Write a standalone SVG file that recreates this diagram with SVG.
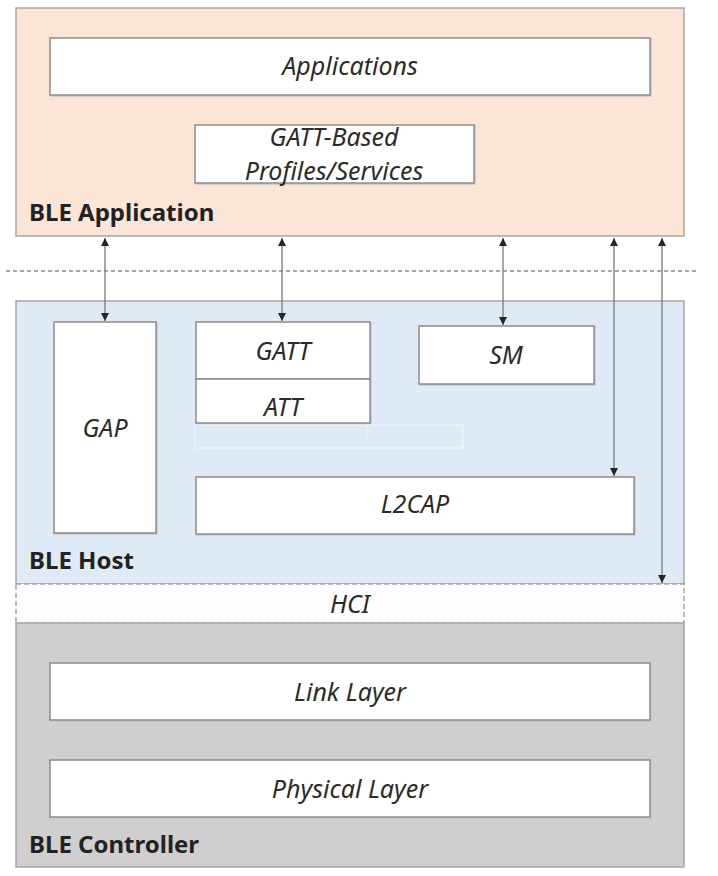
<svg xmlns="http://www.w3.org/2000/svg" width="718" height="876" viewBox="0 0 718 876">
<style>
.layer{stroke:#a6a6a6;stroke-width:1.5}
.box{fill:#ffffff;stroke:#8c8c8c;stroke-width:1.5}
.shadow{fill:none;stroke:#c8c8c8;stroke-width:1.5}
.t{font-family:"Noto Sans","Open Sans",sans-serif;font-style:italic;font-size:25px;fill:#2b2b2b;text-anchor:middle}
.lbl{font-family:"Noto Sans","Open Sans",sans-serif;font-weight:bold;font-size:24px;fill:#222222}
.conn{stroke:#8a8a8a;stroke-width:1.5;fill:none;marker-start:url(#ah);marker-end:url(#ah)}
</style>
<defs>
<marker id="ah" viewBox="0 0 10 10" refX="10" refY="5" markerWidth="8" markerHeight="8" markerUnits="userSpaceOnUse" orient="auto-start-reverse">
<path d="M0,0 L10,5 L0,10 z" fill="#262626"/>
</marker>
</defs>
<rect width="718" height="876" fill="#ffffff"/>

<g id="ble-application">
<rect class="layer" x="16" y="8" width="668" height="228" fill="#fbe5d6"/>
<text class="lbl" x="29" y="221">BLE Application</text>
</g>
<g id="applications">
<rect class="shadow" x="51" y="39" width="600" height="57"/>
<rect class="box" x="50" y="38" width="600" height="57"/>
<text class="t" x="350" y="75">Applications</text>
</g>
<g id="gatt-profiles">
<rect class="shadow" x="196" y="126" width="279" height="58"/>
<rect class="box" x="195" y="125" width="279" height="58"/>
<text class="t" x="334" y="146">GATT-Based</text>
<text class="t" x="334" y="180">Profiles/Services</text>
</g>

<line x1="6" y1="271" x2="697" y2="271" stroke="#8a8a8a" stroke-width="1.5" stroke-dasharray="4,3"/>

<g id="ble-host">
<rect class="layer" x="16" y="301" width="668" height="283" fill="#deebf7"/>
<text class="lbl" x="29" y="569">BLE Host</text>
</g>
<g id="gap">
<rect class="shadow" x="55" y="323" width="102" height="211"/>
<rect class="box" x="54" y="322" width="102" height="211"/>
<text class="t" x="105" y="437">GAP</text>
</g>
<g id="gatt">
<rect class="shadow" x="197" y="323" width="174" height="57"/>
<rect class="box" x="196" y="322" width="174" height="57"/>
<text class="t" x="283" y="360">GATT</text>
</g>
<g id="att">
<rect class="shadow" x="197" y="380" width="174" height="44"/>
<rect class="box" x="196" y="379" width="174" height="44"/>
<text class="t" x="283" y="416">ATT</text>
</g>
<g id="sm">
<rect class="shadow" x="420" y="327" width="175" height="58"/>
<rect class="box" x="419" y="326" width="175" height="58"/>
<text class="t" x="506" y="364">SM</text>
</g>
<g id="ghost" fill="none" stroke="#f0f6fc" stroke-width="1.2">
<rect x="195" y="425" width="268" height="23"/>
<line x1="367" y1="425" x2="367" y2="438"/>
</g>
<g id="l2cap">
<rect class="shadow" x="197" y="478" width="438" height="57"/>
<rect class="box" x="196" y="477" width="438" height="57"/>
<text class="t" x="415" y="513">L2CAP</text>
</g>

<g id="hci">
<rect x="16" y="584" width="668" height="39" fill="#fdfdfd" stroke="#a6a6a6" stroke-width="1.5" stroke-dasharray="5,3"/>
<text class="t" x="350" y="613">HCI</text>
</g>

<g id="ble-controller">
<rect class="layer" x="16" y="623" width="668" height="244" fill="#d0cecf"/>
<text class="lbl" x="29" y="853">BLE Controller</text>
</g>
<g id="link-layer">
<rect class="shadow" x="51" y="664" width="600" height="57"/>
<rect class="box" x="50" y="663" width="600" height="57"/>
<text class="t" x="350" y="701">Link Layer</text>
</g>
<g id="physical-layer">
<rect class="shadow" x="51" y="761" width="600" height="57"/>
<rect class="box" x="50" y="760" width="600" height="57"/>
<text class="t" x="350" y="798">Physical Layer</text>
</g>

<g id="connectors">
<line class="conn" x1="105" y1="238" x2="105" y2="321"/>
<line class="conn" x1="282" y1="238" x2="282" y2="321"/>
<line class="conn" x1="503" y1="238" x2="503" y2="325"/>
<line class="conn" x1="614" y1="238" x2="614" y2="476"/>
<line class="conn" x1="662" y1="238" x2="662" y2="583"/>
</g>
</svg>
